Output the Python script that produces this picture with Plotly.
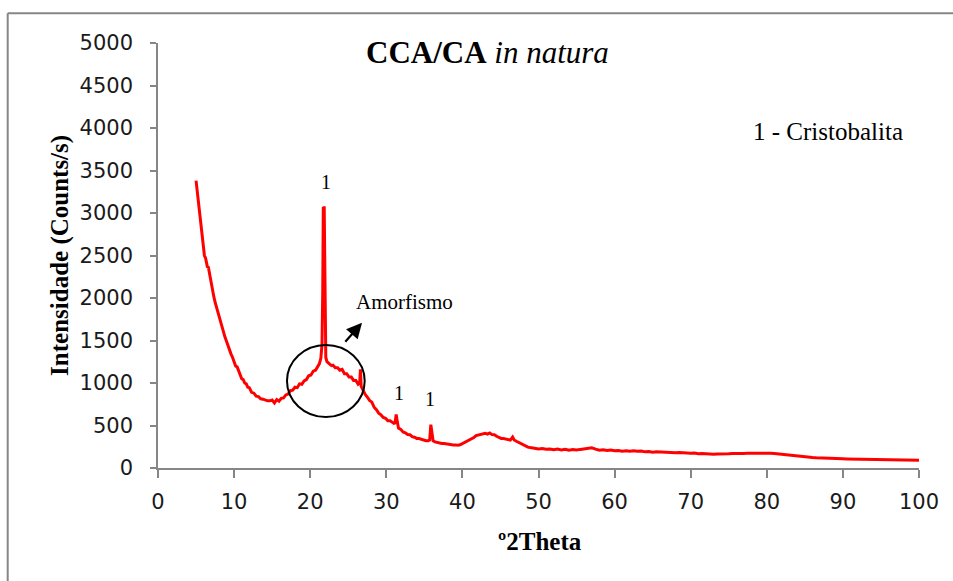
import plotly.graph_objects as go

# ---- data (°2Theta vs Counts/s) ----
two_theta = [
    5.0, 5.1, 5.2, 5.3, 5.4, 5.5, 5.6, 5.75, 5.9, 6.0, 6.1, 6.25, 6.4, 6.5, 6.6, 6.75, 6.9,
    7.0, 7.2, 7.35, 7.5, 7.65, 7.8, 8.0, 8.2, 8.4, 8.6, 8.8, 9.0, 9.2, 9.4, 9.6, 9.8,
    10.0, 10.2, 10.4, 10.6, 10.8, 11.0, 11.2, 11.4, 11.6, 11.8, 12.0, 12.3, 12.6, 12.9,
    13.2, 13.5, 13.8, 14.1, 14.4, 14.7, 15.0, 15.3, 15.6, 15.9, 16.2, 16.5, 16.8, 17.1,
    17.4, 17.7, 18.0, 18.3, 18.6, 18.9, 19.2, 19.5, 19.8, 20.1, 20.4, 20.7, 21.0, 21.2,
    21.4, 21.55, 21.65, 21.72, 21.78, 21.84, 21.9, 21.97, 22.05, 22.2, 22.4, 22.6, 22.8,
    23.0, 23.3, 23.6, 23.9, 24.2, 24.5, 24.8, 25.1, 25.4, 25.7, 26.0, 26.3, 26.5, 26.6,
    26.7, 26.9, 27.2, 27.5, 27.8, 28.1, 28.4, 28.7, 29.0, 29.3, 29.6, 29.9, 30.2, 30.5,
    30.8, 31.0, 31.15, 31.3, 31.45, 31.6, 31.9, 32.2, 32.5, 32.8, 33.1, 33.4, 33.7, 34.0,
    34.3, 34.6, 34.9, 35.2, 35.5, 35.7, 35.85, 36.0, 36.15, 36.4, 36.7, 37.0, 37.3, 37.6,
    37.9, 38.2, 38.5, 38.8, 39.1, 39.4, 39.7, 40.0, 40.3, 40.6, 40.9, 41.2, 41.5, 41.8,
    42.1, 42.4, 42.7, 43.0, 43.3, 43.6, 43.9, 44.2, 44.5, 44.8, 45.1, 45.4, 45.7, 46.0,
    46.3, 46.6, 46.8, 47.1, 47.4, 47.7, 48.0, 48.3, 48.6, 48.9, 49.2, 49.6, 50.0, 50.5,
    51.0, 51.5, 52.0, 52.5, 53.0, 53.5, 54.0, 54.5, 55.0, 55.5, 56.0, 56.5, 57.0, 57.5,
    58.0, 58.5, 59.0, 59.5, 60.0, 60.5, 61.0, 61.5, 62.0, 62.5, 63.0, 63.5, 64.0, 64.5,
    65.0, 65.5, 66.0, 66.5, 67.0, 67.5, 68.0, 68.5, 69.0, 69.5, 70.0, 70.5, 71.0, 71.5,
    72.0, 72.5, 73.0, 73.5, 74.0, 74.5, 75.0, 75.5, 76.0, 76.5, 77.0, 77.5, 78.0, 78.5,
    79.0, 79.5, 80.0, 80.5, 81.0, 81.5, 82.0, 82.5, 83.0, 83.5, 84.0, 84.5, 85.0, 85.5,
    86.0, 86.5, 87.0, 87.5, 88.0, 88.5, 89.0, 89.5, 90.0, 90.5, 91.0, 91.5, 92.0, 92.5,
    93.0, 93.5, 94.0, 94.5, 95.0, 95.5, 96.0, 96.5, 97.0, 97.5, 98.0, 98.5, 99.0, 99.5,
    100.0,
]
counts = [
    3380, 3300, 3150, 3080, 3010, 2960, 2890, 2770, 2620, 2560, 2500, 2470, 2420, 2360, 2370, 2290, 2200,
    2150, 2060, 2010, 1950, 1900, 1850, 1790, 1740, 1680, 1610, 1540, 1490, 1430, 1400, 1340, 1300,
    1250, 1200, 1190, 1135, 1100, 1050, 1040, 1000, 990, 950, 945, 890, 880, 845,
    840, 815, 810, 795, 790, 790, 800, 765, 805, 785, 820, 825, 860, 870,
    910, 915, 950, 945, 990, 985, 1025, 1040, 1085, 1095, 1140, 1150, 1200, 1225,
    1290, 1450, 2100, 3070, 2900, 3080, 2300, 1500, 1300, 1250, 1230, 1220, 1205,
    1210, 1180, 1180, 1150, 1160, 1110, 1110, 1070, 1070, 1030, 1030, 985, 1000, 1160,
    960, 925, 870, 835, 795, 775, 715, 685, 645, 625, 595, 585, 555, 555,
    535, 525, 530, 630, 540, 470, 455, 425, 415, 395, 392, 368, 362, 348,
    347, 337, 333, 322, 322, 330, 510, 420, 320, 307, 298, 297, 288, 287,
    282, 282, 272, 272, 272, 267, 273, 287, 298, 312, 323, 342, 358, 382,
    388, 398, 398, 407, 398, 412, 393, 392, 373, 362, 348, 347, 338, 337,
    328, 365, 330, 315, 300, 290, 270, 255, 245, 240, 235, 230, 225, 228,
    220, 224, 216, 222, 213, 220, 210, 217, 211, 219, 225, 234, 238, 222,
    210, 214, 206, 212, 203, 207, 198, 204, 197, 202, 196, 201, 190, 194,
    186, 191, 188, 183, 180, 184, 178, 181, 176, 179, 173, 176, 169, 171,
    166, 169, 161, 166, 164, 168, 167, 171, 169, 173, 171, 175, 175, 178,
    180, 177, 178, 174, 171, 166, 162, 157, 150, 143, 135, 131, 128, 126,
    124, 121, 118, 117, 115, 113, 112, 110, 108, 107, 106, 105, 104, 103,
    102, 101, 100, 99, 98, 100, 100, 98, 98, 97, 96, 95, 94, 92,
    90,
]

x_ticks = [0, 10, 20, 30, 40, 50, 60, 70, 80, 90, 100]
y_ticks = [0, 500, 1000, 1500, 2000, 2500, 3000, 3500, 4000, 4500, 5000]

fig = go.Figure()
fig.add_trace(go.Scatter(x=two_theta, y=counts, mode="lines",
                         line=dict(color="#ff0000", width=3), showlegend=False))

axis_col = "#868686"
serif = "Liberation Serif"
tickfont = dict(family="DejaVu Sans", size=21, color="#1a1a1a")

fig.update_xaxes(range=[0, 100], tickvals=x_ticks, ticktext=[str(v) for v in x_ticks],
                 showline=True, linecolor=axis_col, linewidth=1.5,
                 ticks="outside", ticklen=8, tickcolor=axis_col, tickwidth=1.5,
                 showgrid=False, zeroline=False, tickfont=tickfont, ticklabelstandoff=6)
fig.update_yaxes(range=[0, 5000], tickvals=y_ticks, ticktext=[str(v) for v in y_ticks],
                 showline=True, linecolor=axis_col, linewidth=1.5,
                 ticks="outside", ticklen=6, tickcolor=axis_col, tickwidth=1.5,
                 showgrid=False, zeroline=False, tickfont=tickfont, ticklabelstandoff=13)

annotations = [
    dict(x=43.3, y=4891, xref="x", yref="y", showarrow=False,
         text="<b>CCA/CA</b> <i>in natura</i>", font=dict(family=serif, size=31, color="black")),
    dict(x=-0.129, y=0.501, xref="paper", yref="paper", showarrow=False, textangle=-90,
         xanchor="center", yanchor="middle",
         text="<b>Intensidade (Counts/s)</b>", font=dict(family=serif, size=25, color="black")),
    dict(x=0.5016, y=-0.173, xref="paper", yref="paper", showarrow=False,
         xanchor="center", yanchor="middle",
         text="<b>º2Theta</b>", font=dict(family=serif, size=25, color="black")),
    dict(x=22.1, y=3370, xref="x", yref="y", showarrow=False, text="1",
         font=dict(family=serif, size=20, color="black")),
    dict(x=31.63, y=883, xref="x", yref="y", showarrow=False, text="1",
         font=dict(family=serif, size=20, color="black")),
    dict(x=35.77, y=813, xref="x", yref="y", showarrow=False, text="1",
         font=dict(family=serif, size=20, color="black")),
    dict(x=32.42, y=1955, xref="x", yref="y", showarrow=False, text="Amorfismo",
         font=dict(family=serif, size=21, color="black")),
    dict(x=88.07, y=3963, xref="x", yref="y", showarrow=False, text="1 - Cristobalita",
         font=dict(family=serif, size=25, color="black")),
    dict(x=26.81, y=1710, ax=24.44, ay=1468, xref="x", yref="y", axref="x", ayref="y",
         showarrow=True, arrowhead=2, arrowsize=1.4, arrowwidth=2.2, arrowcolor="black",
         text=""),
]

shapes = [
    dict(type="circle", xref="x", yref="y", x0=16.95, x1=27.16, y0=599, y1=1448,
         line=dict(color="black", width=2)),
    dict(type="line", xref="paper", yref="paper", x0=-0.1975, x1=-0.1975, y0=1.0698, y1=-0.4,
         line=dict(color=axis_col, width=2)),
    dict(type="line", xref="paper", yref="paper", x0=-0.1975, x1=1.1, y0=1.0698, y1=1.0698,
         line=dict(color=axis_col, width=2)),
]

fig.update_layout(
    width=953, height=581,
    margin=dict(l=158, r=34, t=43, b=113),
    paper_bgcolor="white", plot_bgcolor="white",
    annotations=annotations, shapes=shapes,
)

fig.write_html("out.html")
